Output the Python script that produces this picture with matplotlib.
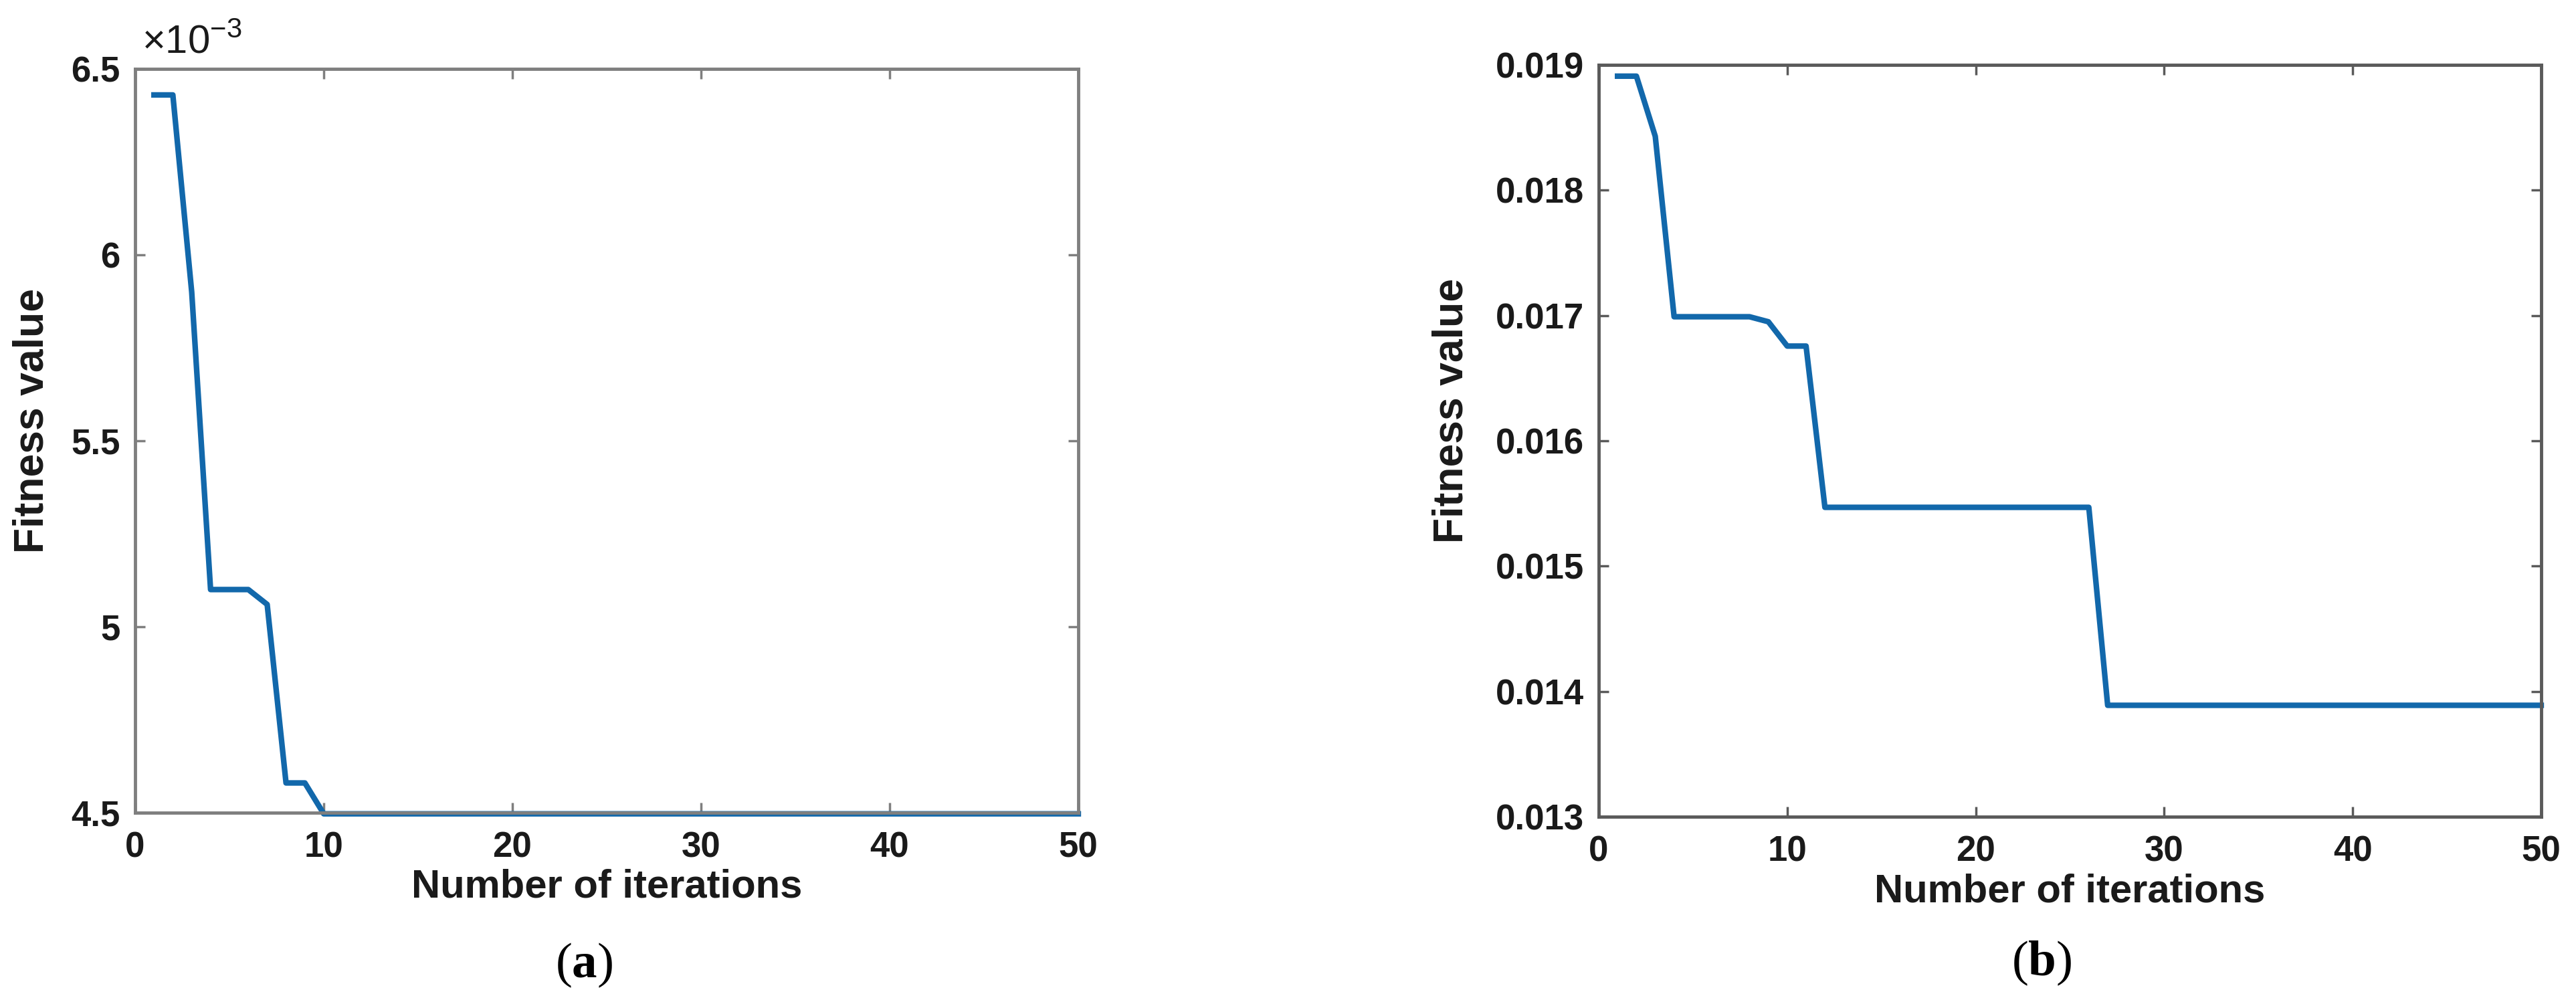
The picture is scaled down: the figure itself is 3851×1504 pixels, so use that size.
import numpy as np
import matplotlib
matplotlib.use("Agg")
import matplotlib.pyplot as plt
from matplotlib.ticker import FuncFormatter, MultipleLocator

plt.rcParams['font.family'] = ['Liberation Sans', 'DejaVu Sans']
plt.rcParams['mathtext.fontset'] = 'custom'
plt.rcParams['mathtext.rm'] = 'Liberation Sans'
plt.rcParams['mathtext.bf'] = 'Liberation Serif:bold'

# iteration numbers (both runs)
iterations = list(range(1, 51))

# (a) fitness curve, values in 1e-3 units
fitness_a_e3 = [6.43, 6.43, 5.90, 5.10, 5.10, 5.10, 5.06, 4.58, 4.58, 4.497] + [4.497] * 40
fitness_a = [v * 1e-3 for v in fitness_a_e3]

# (b) fitness curve
fitness_b = ([0.01891, 0.01891, 0.01843] + [0.01699] * 5 + [0.01695, 0.016756, 0.016756]
             + [0.015469] * 15 + [0.013889] * 24)

a_yticks = [4.5e-3, 5.0e-3, 5.5e-3, 6.0e-3, 6.5e-3]
b_yticks = [0.013, 0.014, 0.015, 0.016, 0.017, 0.018, 0.019]
xticks = [0, 10, 20, 30, 40, 50]

W, H = 3851, 1504
fig = plt.figure(figsize=(W / 100, H / 100), dpi=100)

line_col = '#1268ab'


def style_axes(ax, spine_col):
    for s in ax.spines.values():
        s.set_color(spine_col)
        s.set_linewidth(3.5)
    ax.tick_params(direction='in', length=11, width=2.5, colors=spine_col,
                   top=True, right=True, labelsize=38, pad=20)
    ax.tick_params(axis='y', pad=16)
    for lab in ax.get_xticklabels() + ax.get_yticklabels():
        lab.set_color('#1a1a1a')
        lab.set_fontweight('bold')
    ax.set_xlim(0, 50)
    ax.set_xticks(xticks)
    ax.set_xlabel('Number of iterations', fontsize=43, fontweight='bold', color='#1a1a1a')
    ax.set_ylabel('Fitness value', fontsize=45, fontweight='bold', color='#1a1a1a')


# panel (a)
ax1 = fig.add_axes([202 / W, 1 - 1215 / H, 1410 / W, 1112 / H])
ax1.plot(iterations, fitness_a, color=line_col, lw=6, clip_on=False)
ax1.set_ylim(4.5e-3, 6.5e-3)
ax1.set_yticks(a_yticks)
ax1.yaxis.set_major_formatter(FuncFormatter(lambda v, p: f"{v * 1e3:g}"))
style_axes(ax1, '#7f7f7f')
ax1.text(0.007, 1.01, r'$\times10^{-3}$', transform=ax1.transAxes, fontsize=43,
         ha='left', va='bottom', color='#1a1a1a')
ax1.xaxis.set_label_coords(0.5, -0.075)
ax1.yaxis.set_label_coords(-0.088, 0.527)

# panel (b)
ax2 = fig.add_axes([2390 / W, 1 - 1221 / H, 1409 / W, 1124 / H])
ax2.plot(iterations, fitness_b, color=line_col, lw=6, clip_on=False)
ax2.set_ylim(0.013, 0.019)
ax2.set_yticks(b_yticks)
ax2.yaxis.set_major_formatter(FuncFormatter(lambda v, p: f"{v:.3f}"))
style_axes(ax2, '#5a5a5a')
ax2.xaxis.set_label_coords(0.5, -0.075)
ax2.yaxis.set_label_coords(-0.135, 0.54)

# sub-figure captions
fig.text(873 / W, 1 - 1443 / H, r'($\mathbf{a}$)', fontsize=54, ha='center', va='center',
         family='Liberation Serif')
fig.text(3052 / W, 1 - 1440 / H, r'($\mathbf{b}$)', fontsize=54, ha='center', va='center',
         family='Liberation Serif')

fig.savefig('out.png', dpi=100, facecolor='white')
